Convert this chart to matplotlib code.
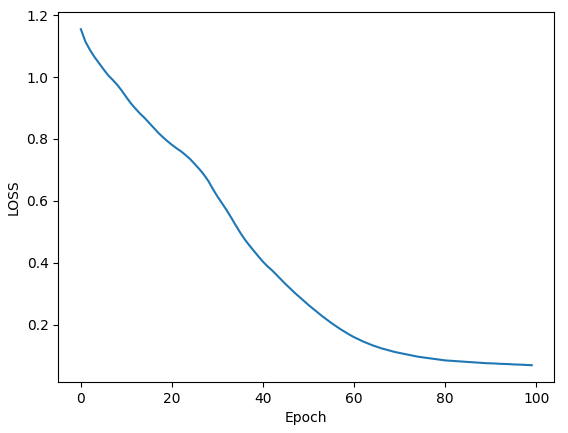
import matplotlib
matplotlib.use("Agg")
import matplotlib.pyplot as plt
import numpy as np

# loss per epoch
epochs = np.arange(100)
loss = [1.155, 1.115, 1.088, 1.065, 1.045, 1.025, 1.006, 0.991, 0.975, 0.956,
        0.935, 0.915, 0.898, 0.882, 0.868, 0.852, 0.836, 0.820, 0.806, 0.793,
        0.781, 0.770, 0.760, 0.748, 0.735, 0.719, 0.703, 0.685, 0.664, 0.638,
        0.614, 0.592, 0.570, 0.546, 0.521, 0.497, 0.475, 0.456, 0.438, 0.420,
        0.403, 0.388, 0.375, 0.360, 0.345, 0.330, 0.316, 0.302, 0.289, 0.276,
        0.263, 0.251, 0.239, 0.227, 0.216, 0.205, 0.195, 0.185, 0.176, 0.167,
        0.159, 0.152, 0.145, 0.139, 0.133, 0.128, 0.123, 0.119, 0.115, 0.111,
        0.108, 0.105, 0.102, 0.099, 0.096, 0.094, 0.092, 0.090, 0.088, 0.086,
        0.084, 0.083, 0.082, 0.081, 0.080, 0.079, 0.078, 0.077, 0.076, 0.075,
        0.0745, 0.074, 0.073, 0.0725, 0.072, 0.071, 0.0705, 0.070, 0.069, 0.0685]

fig = plt.figure(figsize=(5.68, 4.33), dpi=100)
ax = fig.add_axes([58.3 / 568, 51 / 433, 496 / 568, 369.6 / 433])
ax.plot(epochs, loss)
ax.set_xlabel("Epoch")
ax.set_ylabel("LOSS")
fig.savefig("out.png", dpi=100)
